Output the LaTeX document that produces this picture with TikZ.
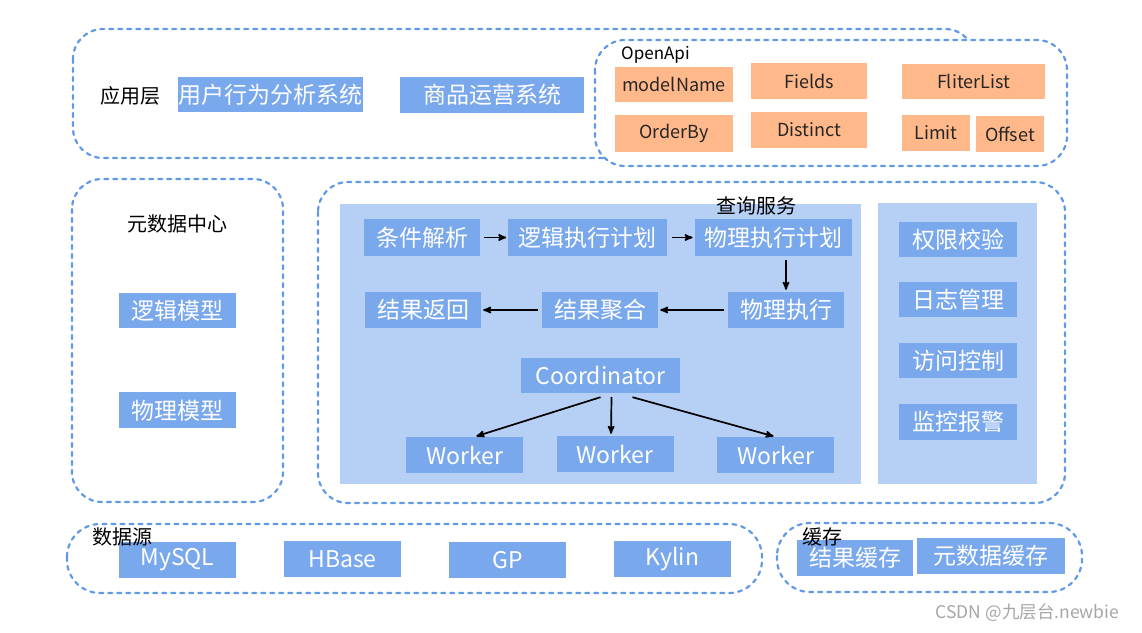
\documentclass[tikz,border=0pt]{standalone}
\usepackage{fontspec}
\setmainfont{Noto Sans CJK SC}
\usepackage{tikz}
\usetikzlibrary{arrows,positioning}
\definecolor{kastenblau}{RGB}{122,168,236}
\definecolor{flaechenblau}{RGB}{182,208,245}
\definecolor{orangefarbe}{RGB}{255,184,138}
\definecolor{linienblau}{RGB}{96,154,228}
\tikzset{
    %Define standard arrow tip
    >=stealth',
    %Define style for blue boxes
    kasten/.style={
           rectangle,
           fill=kastenblau,
           text=white,
           inner sep=0pt,
           minimum width=117pt,
           minimum height=35pt,
           font=\fontsize{23}{23}\selectfont},
    % Define style for the orange api boxes
    apikasten/.style={kasten, fill=orangefarbe, text=black!85, font=\fontsize{18}{18}\selectfont},
    % dashed frames round the layers
    rahmen/.style={
           draw=linienblau,
           line width=2.2pt,
           dash pattern=on 4pt off 5pt,
           line cap=round,
           rounded corners=30pt},
    % light blue areas
    flaeche/.style={fill=flaechenblau},
    % black labels
    titel/.style={text=black, inner sep=0pt, font=\fontsize{20}{20}\selectfont},
    % Define arrow style
    pil/.style={
           ->,
           line width=1.7pt,
           shorten >=2pt,
           shorten <=4pt}
}

\begin{document}
\begin{tikzpicture}[x=1pt,y=-1pt]
  \useasboundingbox (0,0) rectangle (1142,632);
  % frames
  \draw[rahmen] (73,29) rectangle (975,158);
  \draw[rahmen, fill=white] (595,40) rectangle (1067,166);
  \draw[rahmen] (72,179) rectangle (283,502);
  \draw[rahmen] (318,182) rectangle (1065,503);
  \draw[rahmen, rounded corners=33pt] (67,524) rectangle (762,593);
  \draw[rahmen, rounded corners=33pt] (777,523) rectangle (1082,592);
  \fill[flaeche] (340,204) rectangle (861,484);
  \fill[flaeche] (878,203) rectangle (1037,484);

  % application layer
  \node[titel] (app) at (130,96) {应用层};
  \node[kasten, minimum width=185pt] (ubs) at (270.5,94.5) {用户行为分析系统};
  \node[kasten, minimum width=184pt, minimum height=36pt] (gys) at (492,95) {商品运营系统};
  \node[titel, anchor=west, font=\fontsize{17}{17}\selectfont] (oapi) at (621,55) {OpenApi};
  \node[apikasten, minimum width=118pt] (mn) at (674,84.5) {modelName};
  \node[apikasten, minimum width=116pt, minimum height=36pt] (fld) at (809,81) {Fields};
  \node[apikasten, minimum width=143pt] (fl) at (973.5,81.5) {FliterList};
  \node[apikasten, minimum width=118pt, minimum height=37pt] (ob) at (674,133.5) {OrderBy};
  \node[apikasten, minimum width=116pt, minimum height=36pt] (dst) at (809,130) {Distinct};
  \node[apikasten, minimum width=68pt, minimum height=36pt] (lim) at (936,133) {Limit};
  \node[apikasten, minimum width=68pt, minimum height=36pt] (ofs) at (1010,134) {Offset};

  % metadata center
  \node[titel] (meta) at (177,224) {元数据中心};
  \node[kasten] (lm) at (177.5,310.5) {逻辑模型};
  \node[kasten, minimum height=36pt] (pm) [below=64pt of lm] {物理模型};

  % query service
  \node[titel] (qs) at (756,206) {查询服务};
  \node[kasten, minimum width=116pt, minimum height=37pt] (cond) at (422,237.5) {条件解析};
  \node[kasten, minimum width=159pt, minimum height=37pt] (lep) [right=28pt of cond] {逻辑执行计划};
  \node[kasten, minimum width=157pt, minimum height=37pt] (pep) [right=27pt of lep] {物理执行计划};
  \node[kasten, minimum width=116pt, minimum height=36pt] (pe) at (786,310) {物理执行};
  \node[kasten, minimum width=116pt, minimum height=36pt] (agg) at (600,310) {结果聚合};
  \node[kasten, minimum width=116pt, minimum height=36pt] (ret) at (423,310) {结果返回};
  \node[kasten, minimum width=159pt] (coord) at (600.5,375.5) {Coordinator};
  \node[kasten, minimum height=36pt] (w1) at (464.5,455) {Worker};
  \node[kasten, minimum height=36pt] (w2) at (615,454) {Worker};
  \node[kasten, minimum height=36pt] (w3) at (775.5,455) {Worker};
  \draw[pil] (cond) -- (lep);
  \draw[pil] (lep) -- (pep);
  \draw[pil] (pep.south -| pe.north) -- (pe.north);
  \draw[pil] (pe) -- (agg);
  \draw[pil] (agg) -- (ret);
  \draw[pil, shorten <=0pt] ([yshift=-4pt]coord.south) -- ([xshift=10pt]w1.north);
  \draw[pil, shorten <=0pt] ([xshift=11pt,yshift=-4pt]coord.south) -- ([xshift=-4pt]w2.north);
  \draw[pil, shorten <=0pt] ([xshift=32pt,yshift=-4pt]coord.south) -- (w3.north);

  % right panel
  \node[kasten, minimum width=118pt] (auth) at (958,239.5) {权限校验};
  \node[kasten, minimum width=118pt] (log) [below=25pt of auth] {日志管理};
  \node[kasten, minimum width=118pt] (acc) [below=25pt of log] {访问控制};
  \node[kasten, minimum width=118pt, minimum height=36pt] (mon) [below=26pt of acc] {监控报警};

  % data sources and cache
  \node[kasten, minimum height=36pt] (mysql) at (177.5,560) {MySQL};
  \node[kasten, minimum height=36pt] (hb) at (342.5,559) {HBase};
  \node[kasten, minimum height=36pt] (gp) at (507.5,560) {GP};
  \node[kasten, minimum height=36pt] (ky) at (672.5,559) {Kylin};
  \node[kasten, minimum width=116pt, minimum height=36pt] (rc) at (855,558) {结果缓存};
  \node[kasten, minimum width=148pt, minimum height=36pt] (mc) at (991,556) {元数据缓存};
  \node[titel] (ds) at (122,537) {数据源};
  \node[titel] (cache) at (822.5,537) {缓存};

  \node[text=black!35, font=\fontsize{17.5}{17.5}\selectfont] (wm) at (1027.5,613) {CSDN @九层台.newbie};
\end{tikzpicture}
\end{document}
